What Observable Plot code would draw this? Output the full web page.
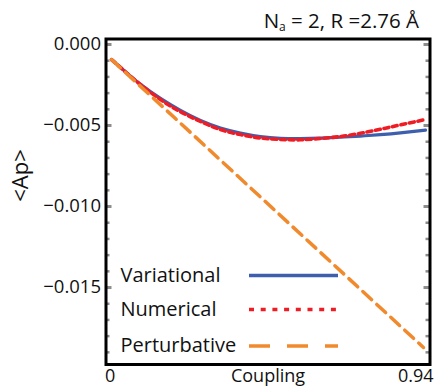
<!DOCTYPE html>
<html>
<head>
<meta charset="utf-8">
<script src="https://cdn.jsdelivr.net/npm/d3@7"></script>
<script src="https://cdn.jsdelivr.net/npm/@observablehq/plot@0.6"></script>
<style>
  body { margin: 0; background: #fff; }
  #wrap { position: relative; width: 438px; height: 387px; font-family: "Open Sans", sans-serif; }
  #title { position: absolute; right: 19px; top: 9px; font-size: 20.5px; line-height: 22px; color: #111; white-space: nowrap; }
  #title sub { font-size: 12px; line-height: 0; vertical-align: -3px; }
  #chart { position: absolute; left: 0; top: 0; }
</style>
</head>
<body>
<div id="wrap">
  <div id="chart"></div>
  <div id="title">N<sub>a</sub> = 2, R =2.76 Å</div>
</div>
<script>
// ---- data ----
const coupling = [0.016, 0.057, 0.100, 0.158, 0.216, 0.274, 0.332, 0.390, 0.448, 0.506, 0.564, 0.622, 0.680, 0.738, 0.796, 0.854, 0.927];
const variational = [-0.00093, -0.00169, -0.00246, -0.00333, -0.00407, -0.00469, -0.00515, -0.00546, -0.00568, -0.00579, -0.00581, -0.00578, -0.00572, -0.00565, -0.00556, -0.00545, -0.00528];
const numerical   = [-0.00093, -0.00170, -0.00247, -0.00340, -0.00415, -0.00475, -0.00525, -0.00556, -0.00577, -0.00586, -0.00588, -0.00580, -0.00568, -0.00548, -0.00523, -0.00496, -0.00463];
const perturbCoupling = [0.016, 0.921];
const perturbative = [-0.00093, -0.0187];

const seriesNames = ["Variational", "Numerical", "Perturbative"];
const yTicks = [0, -0.005, -0.010, -0.015];
const yTickLabels = ["0.000", "\u22120.005", "\u22120.010", "\u22120.015"];
const yMinorTicks = [0, -0.001, -0.002, -0.003, -0.004, -0.005, -0.006, -0.007, -0.008, -0.009, -0.010,
                     -0.011, -0.012, -0.013, -0.014, -0.015, -0.016, -0.017, -0.018, -0.019];
const xTicks = [0, 0.94];
const xTickLabels = ["0", "0.94"];
const xLabel = "Coupling";
const yLabel = "<Ap>";

// ---- layout / style (not data) ----
const colors = {Variational: "#3d5fae", Numerical: "#ee1d25", Perturbative: "#f08a2c"};
const legendRowY = [-0.01426, -0.01636, -0.01861];
const font = '"Open Sans", sans-serif';

const varRows = coupling.map((c, i) => ({c, v: variational[i]}));
const numRows = coupling.map((c, i) => ({c, v: numerical[i]}));
const pertRows = perturbCoupling.map((c, i) => ({c, v: perturbative[i]}));
const legendRows = seriesNames.map((name, i) => ({name, y: legendRowY[i]}));

const plot = Plot.plot({
  width: 438,
  height: 387,
  marginTop: 38.5,
  marginBottom: 23,
  marginLeft: 105.5,
  marginRight: 8.5,
  x: {domain: [0, 0.94], axis: null},
  y: {domain: [-0.01975, 0.00034]},
  style: {fontFamily: font, fontSize: "18px", color: "#111", background: "white", overflow: "visible"},
  marks: [
    // minor/major inward ticks, left and right
    Plot.tickY(yMinorTicks, {y: d => d, stroke: "#8c8c8c", strokeWidth: 2.5, insetRight: 320}),
    Plot.tickY(yMinorTicks, {y: d => d, stroke: "#8c8c8c", strokeWidth: 2.5, insetLeft: 320}),
    Plot.tickY(yTicks, {y: d => d, stroke: "#8c8c8c", strokeWidth: 3, insetRight: 318}),
    Plot.tickY(yTicks, {y: d => d, stroke: "#8c8c8c", strokeWidth: 3, insetLeft: 318}),
    Plot.axisY({ticks: yTicks, tickSize: 0, tickPadding: 5, label: null,
                tickFormat: d => yTickLabels[yTicks.indexOf(d)], fontSize: 18.5}),
    // curves
    Plot.line(varRows, {x: "c", y: "v", stroke: colors.Variational, strokeWidth: 3.2, curve: "natural"}),
    Plot.line(numRows, {x: "c", y: "v", stroke: colors.Numerical, strokeWidth: 3.6, curve: "natural",
                        strokeDasharray: "5,3.7"}),
    Plot.line(pertRows, {x: "c", y: "v", stroke: colors.Perturbative, strokeWidth: 3.5,
                         strokeDasharray: "12,7"}),
    // legend
    Plot.text(legendRows, {y: "y", text: "name", frameAnchor: "left", dx: 14.5, textAnchor: "start",
                           fontSize: 20, fill: "#111"}),
    Plot.ruleY(legendRows.slice(0, 1), {y: "y", insetLeft: 143.5, insetRight: 91.5,
                                        stroke: colors.Variational, strokeWidth: 3.6}),
    Plot.ruleY(legendRows.slice(1, 2), {y: "y", insetLeft: 143.5, insetRight: 91.5,
                                        stroke: colors.Numerical, strokeWidth: 3.6, strokeDasharray: "5,6.7"}),
    Plot.ruleY(legendRows.slice(2, 3), {y: "y", insetLeft: 143.5, insetRight: 91.5,
                                        stroke: colors.Perturbative, strokeWidth: 3.6, strokeDasharray: "21,17"}),
    // frame
    Plot.frame({stroke: "black", strokeWidth: 3}),
    // x tick labels and axis labels
    Plot.text(xTicks.slice(0, 1), {x: d => d, text: (d, i) => xTickLabels[0], frameAnchor: "bottom",
                                   dy: 17, lineAnchor: "bottom", textAnchor: "start", dx: -1, fontSize: 18}),
    Plot.text(xTicks.slice(1, 2), {x: d => d, text: (d, i) => xTickLabels[1], frameAnchor: "bottom",
                                   dy: 17, lineAnchor: "bottom", textAnchor: "end", dx: 3.5, fontSize: 18}),
    Plot.text([xLabel], {text: d => d, frameAnchor: "bottom", dy: 17, lineAnchor: "bottom", fontSize: 18}),
    Plot.text([yLabel], {text: d => d, frameAnchor: "left", dx: -85.5, rotate: -90, fontSize: 22})
  ]
});
document.getElementById("chart").appendChild(plot);
</script>
</body>
</html>
